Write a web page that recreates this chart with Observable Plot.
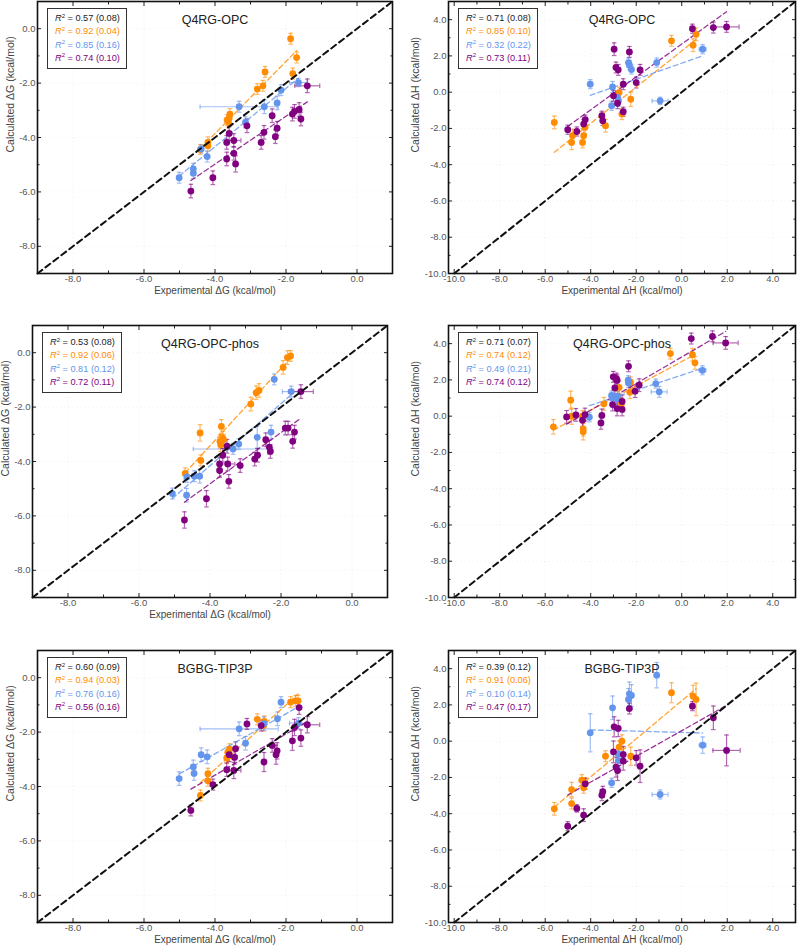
<!DOCTYPE html>
<html>
<head>
<meta charset="utf-8">
<script src="https://cdn.jsdelivr.net/npm/d3@7"></script>
<script src="https://cdn.jsdelivr.net/npm/@observablehq/plot@0.6"></script>
<style>
  html, body { margin: 0; padding: 0; background: #fff; }
  #wrap { position: relative; width: 800px; height: 948px; overflow: hidden; font-family: "Liberation Sans", Arial, sans-serif; }
  .panel { position: absolute; }
  .legend { position: absolute; box-sizing: border-box; width: 80px; height: 61px; border: 1.5px solid #333; background: #fff;
            font-size: 9.2px; line-height: 13.3px; padding: 3px 0 0 7px; white-space: nowrap; }
  .legend sup { font-size: 6px; vertical-align: 0; position: relative; top: -3.5px; line-height: 0; }
</style>
</head>
<body>
<div id="wrap"></div>
<script>
// ---------- data: [experimental, calculated, x error, y error] ----------
// Q4RG-OPC, ΔG
const opcDG_orange = [[-4.41,-4.44,0.05,0.18],[-4.20,-4.18,0.05,0.2],[-4.20,-4.30,0.05,0.2],[-3.58,-3.14,0.05,0.2],[-3.60,-3.28,0.05,0.2],[-3.62,-3.44,0.05,0.2],[-3.66,-3.36,0.05,0.2],[-2.81,-2.22,0.05,0.2],[-2.65,-2.10,0.05,0.2],[-2.59,-1.59,0.05,0.2],[-1.81,-1.65,0.05,0.2],[-1.70,-1.06,0.05,0.2],[-1.87,-0.37,0.05,0.2]];
const opcDG_blue = [[-5.01,-5.48,0.05,0.2],[-4.61,-5.15,0.05,0.2],[-4.61,-5.31,0.05,0.2],[-4.39,-4.42,0.05,0.15],[-4.22,-4.70,0.05,0.2],[-3.32,-2.87,1.1,0.2],[-3.14,-3.44,0.05,0.2],[-2.61,-2.87,0.05,0.25],[-2.25,-2.73,0.05,0.25],[-2.14,-2.26,0.05,0.2],[-1.65,-1.98,0.25,0.15]];
const opcDG_purple = [[-4.68,-5.97,0.05,0.25],[-4.06,-5.48,0.05,0.25],[-3.67,-4.79,0.05,0.25],[-3.67,-4.18,0.05,0.25],[-3.60,-3.85,0.05,0.25],[-3.47,-4.11,0.2,0.25],[-3.47,-4.58,0.05,0.25],[-3.42,-4.97,0.05,0.3],[-3.10,-3.57,0.05,0.25],[-2.70,-4.18,0.05,0.25],[-2.62,-3.81,0.05,0.25],[-2.39,-3.20,0.05,0.25],[-2.30,-3.97,0.05,0.25],[-2.25,-3.66,0.05,0.25],[-1.82,-3.14,0.05,0.25],[-1.76,-3.04,0.05,0.25],[-1.63,-2.97,0.05,0.25],[-1.58,-3.32,0.05,0.25],[-1.40,-2.10,0.35,0.25]];
// Q4RG-OPC, ΔH
const opcDH_orange = [[-5.60,-1.67,0.05,0.35],[-4.84,-2.77,0.05,0.4],[-4.80,-2.40,0.05,0.35],[-4.36,-2.77,0.05,0.3],[-4.31,-2.40,0.05,0.35],[-4.25,-1.94,0.05,0.35],[-3.35,-1.85,0.05,0.35],[-2.75,-0.02,0.05,0.3],[-2.63,-1.21,0.05,0.3],[-2.24,-0.39,0.05,0.4],[-0.45,2.83,0.05,0.3],[0.50,2.59,0.05,0.35],[0.63,3.19,0.05,0.35]];
const opcDH_blue = [[-4.02,0.44,0.05,0.25],[-3.08,-0.75,0.1,0.25],[-3.04,0.29,0.05,0.3],[-2.82,-0.29,0.05,0.3],[-2.78,-0.48,0.05,0.3],[-2.34,1.63,0.05,0.25],[-2.30,1.50,0.05,0.25],[-2.21,1.25,0.05,0.25],[-1.10,1.63,0.05,0.25],[-0.95,-0.48,0.35,0.2],[0.92,2.37,0.15,0.25]];
const opcDH_purple = [[-5.01,-2.07,0.05,0.25],[-4.61,-2.17,0.05,0.25],[-4.31,-1.76,0.05,0.25],[-4.24,-1.52,0.05,0.25],[-3.51,-1.30,0.05,0.25],[-3.47,-1.58,0.05,0.25],[-2.97,2.37,0.05,0.35],[-3.00,-0.20,0.05,0.3],[-2.89,1.36,0.05,0.3],[-2.79,1.23,0.05,0.3],[-2.82,-0.61,0.05,0.3],[-2.57,-1.08,0.05,0.25],[-2.57,0.44,0.05,0.3],[-2.30,2.22,0.05,0.3],[-2.00,0.53,0.05,0.3],[-1.83,1.23,0.05,0.3],[0.47,3.50,0.05,0.25],[1.39,3.56,0.05,0.3],[1.97,3.60,0.55,0.3]];
// Q4RG-OPC-phos, ΔG
const phosDG_orange = [[-4.70,-4.44,0.05,0.2],[-4.26,-3.96,0.05,0.2],[-4.28,-2.95,0.05,0.3],[-3.72,-3.26,0.05,0.25],[-3.68,-2.71,0.05,0.25],[-3.64,-3.14,0.05,0.25],[-3.70,-3.38,0.05,0.25],[-3.62,-3.20,0.05,0.2],[-2.85,-1.89,0.05,0.25],[-2.70,-1.47,0.05,0.25],[-2.62,-1.39,0.05,0.25],[-1.94,-0.54,0.05,0.25],[-1.82,-0.18,0.05,0.25],[-1.73,-0.12,0.05,0.2]];
const phosDG_blue = [[-5.06,-5.18,0.05,0.2],[-4.66,-5.24,0.05,0.25],[-4.65,-4.57,0.05,0.2],[-4.44,-4.54,0.05,0.2],[-4.29,-4.54,0.05,0.25],[-3.35,-3.54,1.12,0.2],[-3.19,-3.36,0.05,0.2],[-2.67,-3.11,0.05,0.4],[-2.28,-2.92,0.05,0.25],[-2.19,-0.98,0.05,0.2],[-1.71,-1.43,0.25,0.2]];
const phosDG_purple = [[-4.72,-6.15,0.05,0.3],[-4.10,-5.37,0.05,0.3],[-3.73,-4.33,0.05,0.25],[-3.73,-4.09,0.05,0.25],[-3.64,-3.77,0.05,0.25],[-3.52,-3.44,0.05,0.25],[-3.50,-4.09,0.2,0.25],[-3.47,-4.73,0.05,0.25],[-3.15,-4.15,0.05,0.25],[-2.74,-3.91,0.05,0.25],[-2.66,-3.77,0.05,0.25],[-2.43,-3.20,0.05,0.25],[-2.33,-3.47,0.05,0.25],[-2.30,-3.63,0.05,0.25],[-1.88,-2.77,0.05,0.25],[-1.80,-2.77,0.05,0.25],[-1.67,-3.26,0.05,0.25],[-1.62,-2.92,0.05,0.25],[-1.44,-1.43,0.35,0.25]];
// Q4RG-OPC-phos, ΔH
const phosDH_orange = [[-5.64,-0.59,0.05,0.4],[-4.88,0.88,0.05,0.5],[-4.84,0.00,0.05,0.45],[-4.36,0.00,0.05,0.3],[-4.33,-0.70,0.05,0.4],[-4.33,-0.86,0.05,0.45],[-3.42,0.68,0.05,0.35],[-2.82,1.01,0.05,0.35],[-2.75,1.58,0.05,0.35],[-2.65,0.68,0.05,0.35],[-2.28,1.32,0.05,0.35],[-2.25,1.87,0.05,0.3],[-0.50,3.45,0.05,0.3],[0.47,3.39,0.05,0.35],[0.58,2.94,0.05,0.35]];
const phosDH_blue = [[-4.06,-0.06,0.05,0.25],[-3.08,1.14,0.1,0.25],[-3.06,1.01,0.05,0.25],[-2.87,0.95,0.05,0.3],[-2.82,1.10,0.05,0.3],[-2.35,1.98,0.05,0.25],[-2.34,1.83,0.05,0.25],[-1.14,1.80,0.05,0.25],[-0.99,1.34,0.35,0.3],[0.91,2.53,0.15,0.25]];
const phosDH_purple = [[-5.06,-0.04,0.05,0.35],[-4.65,0.07,0.05,0.35],[-4.36,-0.22,0.05,0.35],[-4.25,0.09,0.05,0.35],[-3.55,-0.37,0.05,0.35],[-3.51,0.04,0.05,0.35],[-3.01,2.17,0.05,0.3],[-3.04,0.64,0.05,0.35],[-2.94,1.56,0.05,0.35],[-2.87,2.07,0.05,0.3],[-2.84,1.98,0.05,0.3],[-2.84,0.42,0.05,0.4],[-2.62,0.37,0.05,0.35],[-2.62,0.81,0.05,0.35],[-2.34,2.75,0.05,0.3],[-2.05,1.38,0.05,0.35],[-1.87,1.71,0.05,0.35],[0.42,4.28,0.05,0.3],[1.35,4.40,0.05,0.3],[1.93,4.04,0.55,0.35]];
// BGBG-TIP3P, ΔG
const tipDG_orange = [[-4.41,-4.33,0.05,0.2],[-4.20,-3.79,0.05,0.2],[-4.20,-3.53,0.05,0.2],[-3.64,-2.74,0.05,0.2],[-3.62,-2.89,0.05,0.2],[-3.67,-2.95,0.05,0.2],[-3.59,-2.63,0.05,0.2],[-2.81,-1.53,0.05,0.2],[-2.63,-1.76,0.05,0.2],[-2.61,-1.61,0.05,0.2],[-1.87,-0.90,0.05,0.2],[-1.73,-0.85,0.05,0.2],[-1.66,-0.85,0.05,0.2]];
const tipDG_blue = [[-5.01,-3.71,0.05,0.25],[-4.61,-3.28,0.05,0.25],[-4.59,-3.52,0.05,0.25],[-4.39,-2.83,0.05,0.25],[-4.22,-2.91,0.05,0.25],[-3.32,-1.88,1.1,0.25],[-3.14,-2.41,0.05,0.25],[-2.62,-1.69,0.05,0.25],[-2.24,-1.51,0.05,0.25],[-2.14,-0.90,0.05,0.2],[-1.65,-1.67,0.25,0.2]];
const tipDG_purple = [[-4.68,-4.88,0.05,0.2],[-4.06,-3.93,0.05,0.2],[-3.67,-3.38,0.05,0.25],[-3.60,-2.83,0.05,0.25],[-3.47,-3.41,0.2,0.3],[-3.45,-2.93,0.05,0.25],[-3.42,-2.61,0.05,0.25],[-3.10,-1.70,0.05,0.2],[-2.70,-1.76,0.05,0.2],[-2.62,-3.10,0.05,0.35],[-2.39,-2.49,0.05,0.25],[-2.28,-2.83,0.05,0.35],[-2.25,-2.69,0.05,0.3],[-1.82,-2.32,0.05,0.35],[-1.76,-1.83,0.05,0.3],[-1.63,-1.10,0.05,0.25],[-1.58,-2.22,0.05,0.3],[-1.40,-1.73,0.35,0.3]];
// BGBG-TIP3P, ΔH
const tipDH_orange = [[-5.60,-3.73,0.05,0.35],[-4.84,-2.67,0.05,0.4],[-4.84,-3.44,0.05,0.3],[-4.39,-2.15,0.05,0.3],[-4.31,-2.57,0.05,0.3],[-4.25,-2.30,0.05,0.3],[-3.35,-0.83,0.05,0.3],[-2.75,-0.33,0.05,0.35],[-2.63,0.00,0.05,0.35],[-2.24,-0.83,0.05,0.5],[-0.45,2.67,0.05,0.55],[0.50,2.48,0.05,0.6],[0.63,2.30,0.05,0.9]];
const tipDH_blue = [[-4.02,0.46,0.05,1.05],[-3.04,1.84,0.05,0.65],[-3.08,-2.30,0.1,0.25],[-2.79,-0.70,0.05,0.4],[-2.75,-1.07,0.05,0.4],[-2.34,2.30,0.05,0.6],[-2.30,2.61,0.05,0.65],[-2.21,2.52,0.05,0.6],[-1.10,3.64,0.05,0.7],[-0.95,-2.94,0.35,0.25],[0.92,-0.22,0.15,0.45]];
const tipDH_purple = [[-5.01,-4.69,0.05,0.25],[-4.61,-3.71,0.05,0.2],[-4.31,-4.08,0.05,0.35],[-4.24,-2.35,0.05,0.3],[-3.51,-2.98,0.05,0.3],[-3.47,-2.79,0.05,0.3],[-2.97,0.79,0.05,0.55],[-3.00,-0.59,0.05,0.6],[-2.89,-1.43,0.05,0.55],[-2.79,0.70,0.05,0.45],[-2.82,-1.62,0.05,0.55],[-2.57,-1.10,0.05,0.5],[-2.57,-0.74,0.05,0.45],[-2.30,1.80,0.05,0.3],[-2.00,-0.92,0.05,0.4],[-1.83,-1.38,0.05,0.9],[0.47,1.93,0.05,0.25],[1.39,1.29,0.05,0.65],[1.97,-0.51,0.6,0.85]];

// legend statistics: [all, orange, blue, purple]
const r2_opcDG = [0.57, 0.92, 0.85, 0.74],  se_opcDG = [0.08, 0.04, 0.16, 0.10];
const r2_opcDH = [0.71, 0.85, 0.32, 0.73],  se_opcDH = [0.08, 0.10, 0.22, 0.11];
const r2_phosDG = [0.53, 0.92, 0.81, 0.72], se_phosDG = [0.08, 0.06, 0.12, 0.11];
const r2_phosDH = [0.71, 0.74, 0.49, 0.74], se_phosDH = [0.07, 0.12, 0.21, 0.12];
const r2_tipDG = [0.60, 0.94, 0.76, 0.56],  se_tipDG = [0.09, 0.03, 0.16, 0.16];
const r2_tipDH = [0.39, 0.91, 0.10, 0.47],  se_tipDH = [0.12, 0.06, 0.14, 0.17];

const titles = ["Q4RG-OPC", "Q4RG-OPC-phos", "BGBG-TIP3P"];
const xTitles = {G: "Experimental ΔG (kcal/mol)", H: "Experimental ΔH (kcal/mol)"};
const yTitles = {G: "Calculated ΔG (kcal/mol)", H: "Calculated ΔH (kcal/mol)"};

const gDomainX = [-9, 1], gDomainY = [-9, 1];
const hDomainX = [-10.25, 5], hDomainY = [-10, 5];
const gMajor = [-8, -6, -4, -2, 0], gMinor = [-7, -5, -3, -1];
const hMajor = [-10, -8, -6, -4, -2, 0, 2, 4], hMinor = [-9, -7, -5, -3, -1, 1, 3];

const seriesColors = ["#ff8c00", "#6495ed", "#800080"];
const allColor = "#222";

// ---------- drawing ----------
const capH = {draw(ctx, size) { const r = Math.sqrt(size / Math.PI); ctx.moveTo(-r, 0); ctx.lineTo(r, 0); }};
const capV = {draw(ctx, size) { const r = Math.sqrt(size / Math.PI); ctx.moveTo(0, -r); ctx.lineTo(0, r); }};
const fmt = d => d.toFixed(1);

const FRAME_H = 272, SVG_H = 299;

const panels = [
  {left: 0,   top: 0,   fl: 37,  fr: 392, kind: "G", title: titles[0], sets: [opcDG_orange, opcDG_blue, opcDG_purple], r2: r2_opcDG, se: se_opcDG, xt: true},
  {left: 400, top: 0,   fl: 448, fr: 795, kind: "H", title: titles[0], sets: [opcDH_orange, opcDH_blue, opcDH_purple], r2: r2_opcDH, se: se_opcDH, xt: true},
  {left: 0,   top: 324, fl: 32,  fr: 387, kind: "G", title: titles[1], sets: [phosDG_orange, phosDG_blue, phosDG_purple], r2: r2_phosDG, se: se_phosDG, xt: true},
  {left: 400, top: 324, fl: 448, fr: 795, kind: "H", title: titles[1], sets: [phosDH_orange, phosDH_blue, phosDH_purple], r2: r2_phosDH, se: se_phosDH, xt: false},
  {left: 0,   top: 649, fl: 37,  fr: 392, kind: "G", title: titles[2], sets: [tipDG_orange, tipDG_blue, tipDG_purple], r2: r2_tipDG, se: se_tipDG, xt: true},
  {left: 400, top: 649, fl: 448, fr: 795, kind: "H", title: titles[2], sets: [tipDH_orange, tipDH_blue, tipDH_purple], r2: r2_tipDH, se: se_tipDH, xt: true}
];

const wrap = document.getElementById("wrap");

for (const p of panels) {
  const G = p.kind === "G";
  const xd = G ? gDomainX : hDomainX, yd = G ? gDomainY : hDomainY;
  const major = G ? gMajor : hMajor, minor = G ? gMinor : hMinor;
  const lo = Math.max(xd[0], yd[0]), hi = Math.min(xd[1], yd[1]);
  const diag = [[lo, lo], [hi, hi]];

  const marks = [
    Plot.gridX({ticks: major, stroke: "#999", strokeOpacity: 0.15, strokeDasharray: "1,3"}),
    Plot.gridY({ticks: major, stroke: "#999", strokeOpacity: 0.15, strokeDasharray: "1,3"})
  ];
  const errStyle = (c) => ({stroke: c, strokeOpacity: 0.6, strokeWidth: 1.2});
  p.sets.forEach((s, i) => {
    const c = seriesColors[i];
    marks.push(
      Plot.ruleX(s, {x: d => d[0], y1: d => d[1] - d[3], y2: d => d[1] + d[3], ...errStyle(c)}),
      Plot.ruleY(s, {y: d => d[1], x1: d => d[0] - d[2], x2: d => d[0] + d[2], ...errStyle(c)}),
      Plot.dot(s, {x: d => d[0], y: d => d[1] + d[3], symbol: capH, r: 2.3, fill: "none", ...errStyle(c)}),
      Plot.dot(s, {x: d => d[0], y: d => d[1] - d[3], symbol: capH, r: 2.3, fill: "none", ...errStyle(c)}),
      Plot.dot(s, {x: d => d[0] + d[2], y: d => d[1], symbol: capV, r: 2.3, fill: "none", ...errStyle(c)}),
      Plot.dot(s, {x: d => d[0] - d[2], y: d => d[1], symbol: capV, r: 2.3, fill: "none", ...errStyle(c)})
    );
  });
  p.sets.forEach((s, i) => {
    marks.push(Plot.linearRegressionY(s, {x: d => d[0], y: d => d[1], stroke: seriesColors[i], strokeOpacity: 0.8,
      strokeWidth: 1.3, strokeDasharray: "5,3", ci: 0}));
  });
  p.sets.forEach((s, i) => {
    marks.push(Plot.dot(s, {x: d => d[0], y: d => d[1], r: 3.4, fill: seriesColors[i], stroke: "none"}));
  });
  marks.push(
    Plot.line(diag, {x: d => d[0], y: d => d[1], stroke: "#111", strokeWidth: 2, strokeDasharray: "6,4"}),
    Plot.axisX({ticks: major, tickSize: -4, tickPadding: 5.5, tickFormat: fmt, label: null, stroke: "#222", fill: "#555", fontSize: 9.5}),
    Plot.axisX({ticks: minor, tickSize: -2.5, fill: "none", stroke: "#222", label: null}),
    Plot.axisX({anchor: "top", ticks: major, tickSize: -4, fill: "none", stroke: "#222", label: null}),
    Plot.axisX({anchor: "top", ticks: minor, tickSize: -2.5, fill: "none", stroke: "#222", label: null}),
    Plot.axisY({ticks: major, tickSize: -4, tickPadding: 6, tickFormat: fmt, label: null, stroke: "#222", fill: "#555", fontSize: 9.5}),
    Plot.axisY({ticks: minor, tickSize: -2.5, fill: "none", stroke: "#222", label: null}),
    Plot.axisY({anchor: "right", ticks: major, tickSize: -4, fill: "none", stroke: "#222", label: null}),
    Plot.axisY({anchor: "right", ticks: minor, tickSize: -2.5, fill: "none", stroke: "#222", label: null}),
    Plot.frame({stroke: "#111", strokeWidth: 1.6}),
    Plot.text([p.title], {text: d => d, frameAnchor: "top", dy: 14, fontSize: 12.5, fill: "#222"}),
    Plot.text([G ? yTitles.G : yTitles.H], {text: d => d, frameAnchor: "left", dx: G ? -27 : -33, dy: 15, rotate: -90, fontSize: 10.5, fill: "#444"})
  );
  if (p.xt) marks.push(Plot.text([G ? xTitles.G : xTitles.H], {text: d => d, frameAnchor: "bottom", dy: 20.5, fontSize: 10, fill: "#444"}));

  const svg = Plot.plot({
    width: 400, height: SVG_H,
    marginLeft: p.fl - p.left, marginRight: p.left + 400 - p.fr,
    marginTop: 1, marginBottom: SVG_H - 1 - FRAME_H,
    x: {domain: xd}, y: {domain: yd},
    style: {fontFamily: "'Liberation Sans', Arial, sans-serif", fontSize: "9.5px", background: "transparent", overflow: "visible"},
    marks
  });
  const holder = document.createElement("div");
  holder.className = "panel";
  holder.style.left = p.left + "px";
  holder.style.top = p.top + "px";
  holder.appendChild(svg);
  wrap.appendChild(holder);

  const leg = document.createElement("div");
  leg.className = "legend";
  leg.style.left = (p.fl + 10) + "px";
  leg.style.top = (p.top + 1 + 7) + "px";
  const cols = [allColor, ...seriesColors];
  leg.innerHTML = p.r2.map((v, i) =>
    `<div style="color:${cols[i]}"><i>R</i><sup>2</sup> = ${v.toFixed(2)} (${p.se[i].toFixed(2)})</div>`).join("");
  wrap.appendChild(leg);
}
</script>
</body>
</html>
